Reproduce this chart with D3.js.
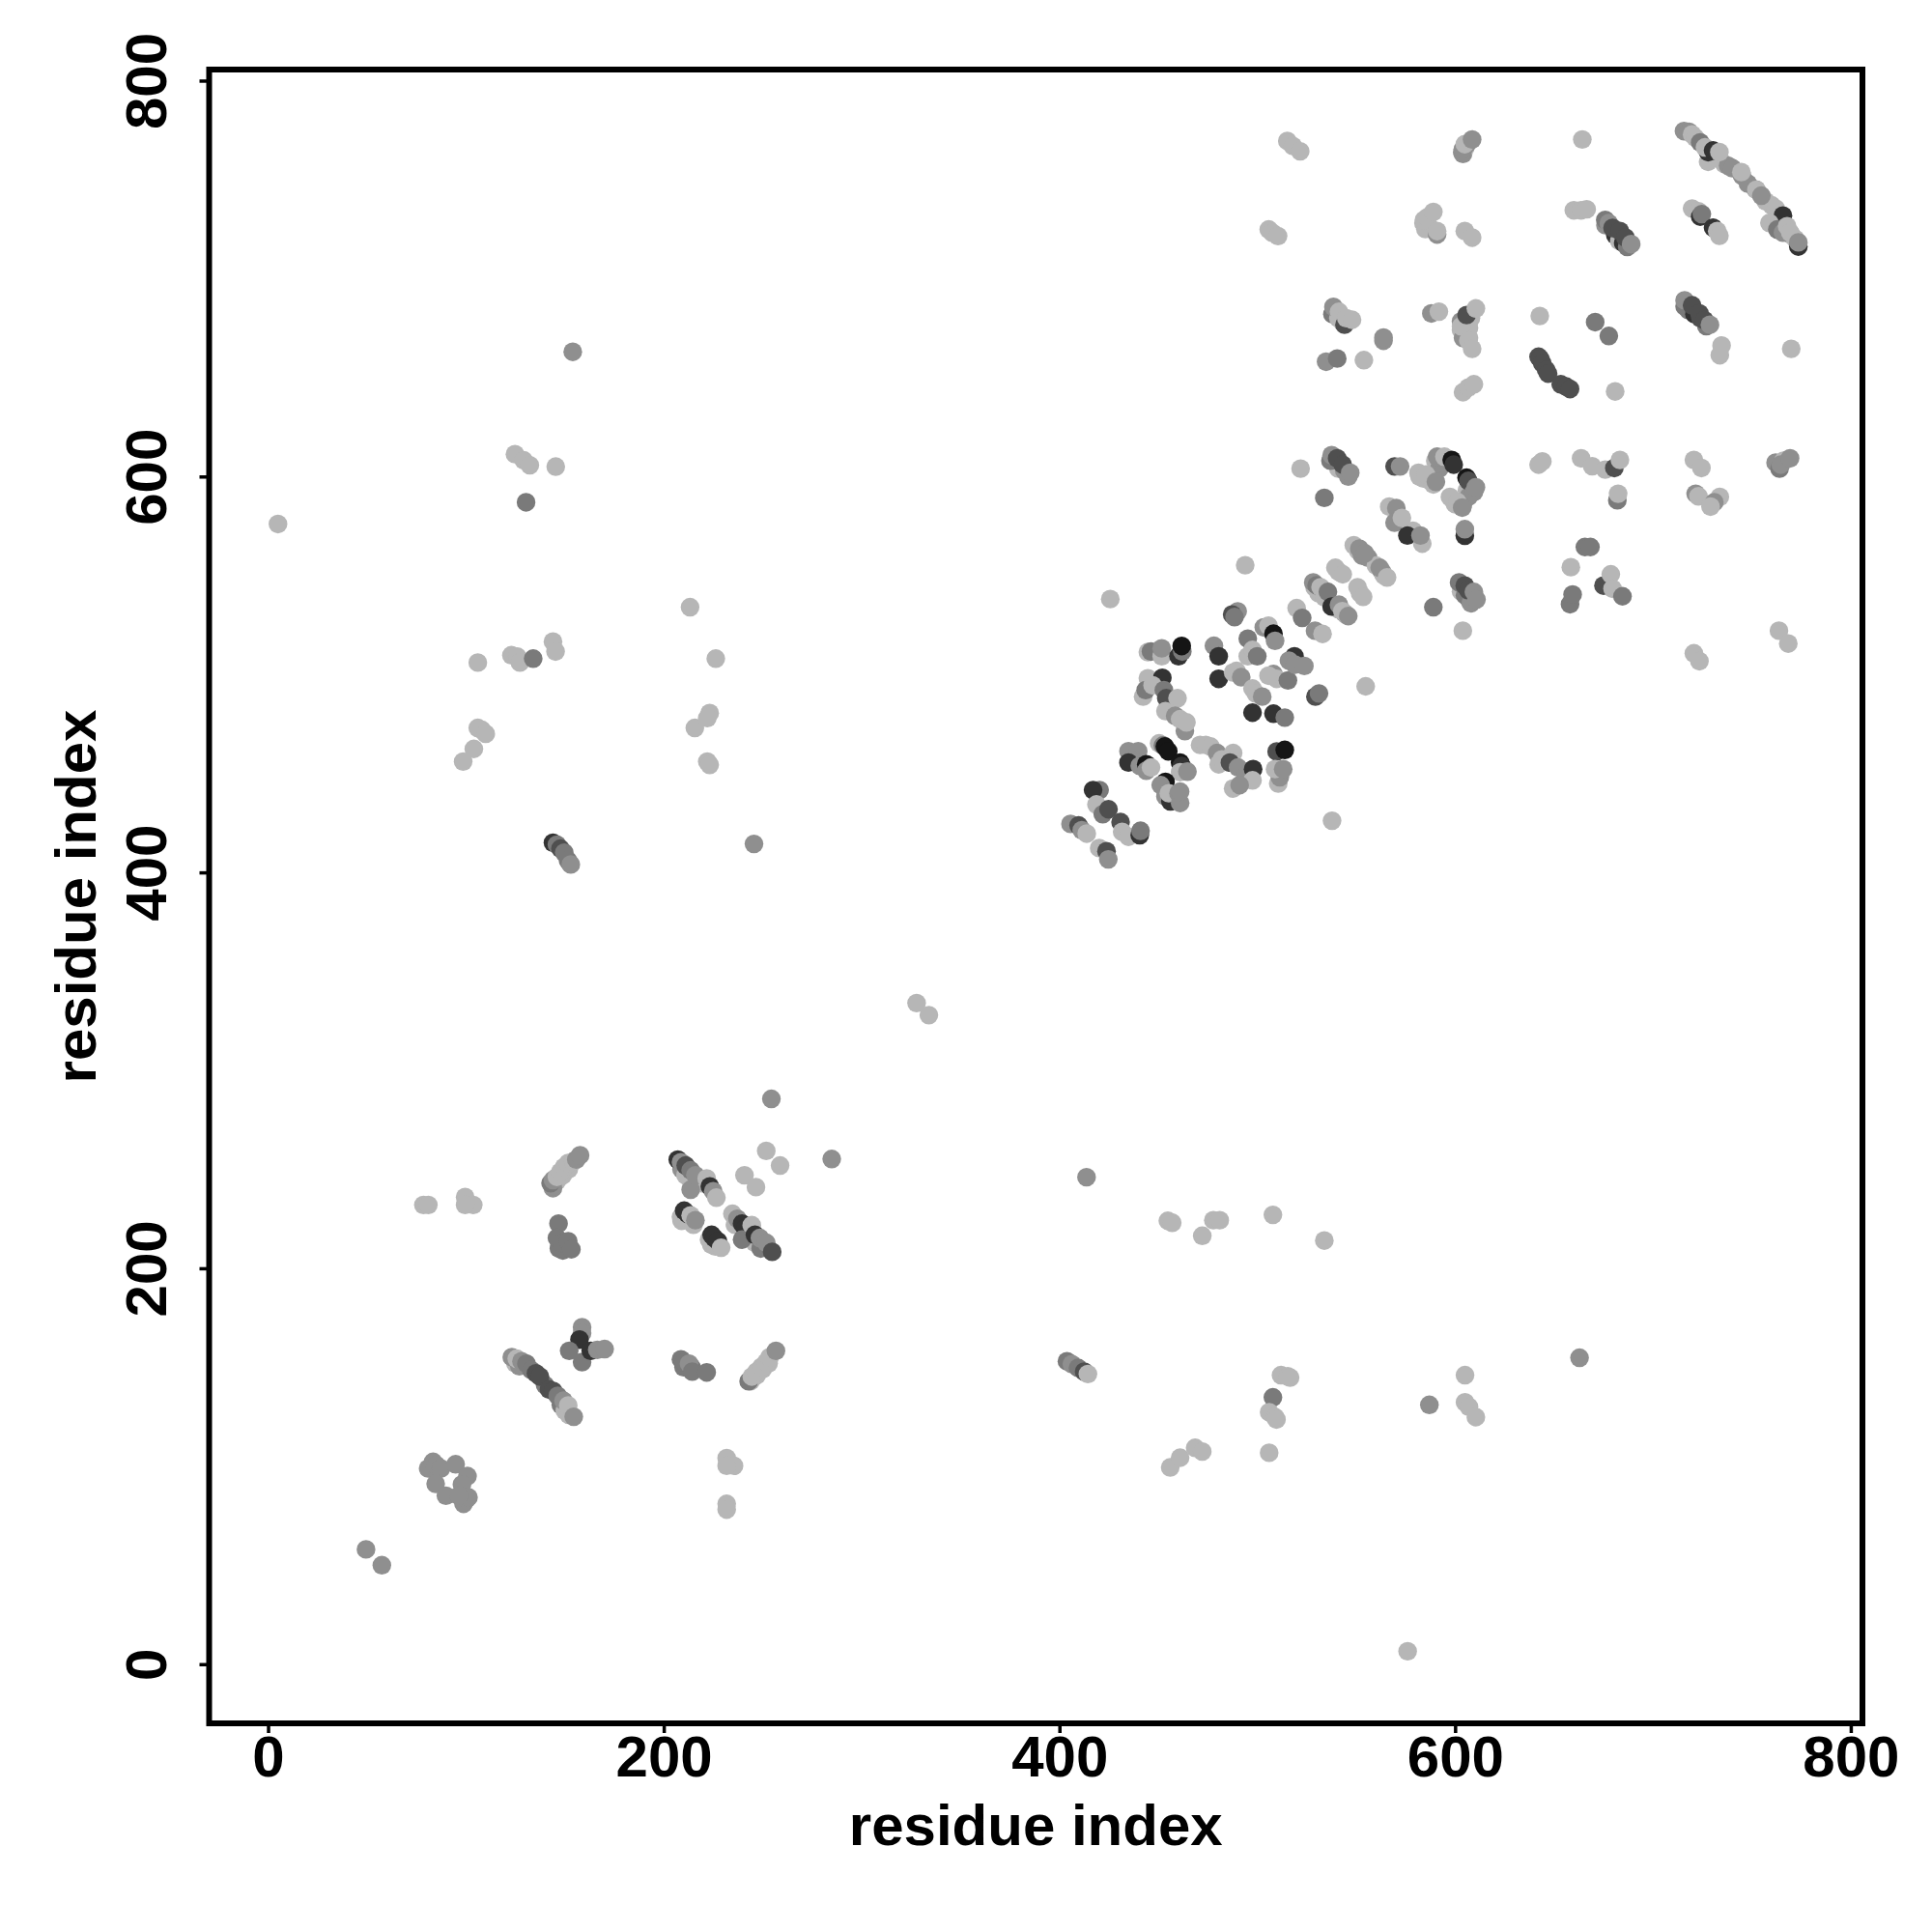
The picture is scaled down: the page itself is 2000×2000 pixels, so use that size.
<!DOCTYPE html>
<html><head><meta charset="utf-8"><script src="https://cdn.jsdelivr.net/npm/d3@7"></script>
<style>html,body{margin:0;background:#fff}svg{display:block}text{font-family:"Liberation Sans",Arial,sans-serif;font-weight:bold;fill:#000}</style></head>
<body><svg id="c" width="2000" height="2000"></svg>
<script>
// [residue i, residue j, shade class]
const clusterFill=[[143.5,242,"L"],[146,244,"L"],[149,247,"L"],[152,250,"L"],[144,240.5,"M"],[150,213,"M"],[147,210,"N"],[149,209,"N"],[125,152,"L"],[127,150.5,"M"],[140,141,"N"],[148,131,"N"],[150,128,"L"],[152,126,"L"],
[209,250,"M"],[211,247,"L"],[214,243,"L"],[219,243,"L"],[209,224,"L"],[211,226,"L"],[213,224,"L"],[215,222,"L"],[224,212,"L"],[226,211,"L"],[236,222,"L"],[242,216,"M"],[244,218,"M"],[246,213,"L"],[249,210,"N"],
[244,143,"L"],[247,146,"L"],[250,149,"L"],[253,152,"L"],[210,150,"N"],[214,150,"N"],
[529,544,"L"],[531,541,"L"],[533,543,"M"],[534,539,"L"],[541,533,"L"],[544,531,"M"],[545,530,"L"],[551,562.5,"L"],[553,560,"M"],[556,559,"M"],[560,555,"L"],[563,552,"M"],[564,550,"L"],[541,552,"L"],[552,541,"L"],
[582,600,"L"],[584,599,"L"],[587,598,"L"],[589,596,"L"],[590,608,"L"],[592,604,"M"],[594,607,"M"],[606,593,"L"],[607,590,"M"],[600,586,"L"],[599,588,"L"],[604,586,"M"],
[603,674,"L"],[605,672,"L"],[607,670,"L"],[604,670,"M"],[606,677,"M"],[607,675,"L"],[608,680,"L"],[584,728,"L"],[587,726,"L"],[585,725,"L"],[538,682,"N"],[541,680,"L"],[543,678,"L"],
[716,686,"N"],[718,684,"N"],[721,682,"E"],[724,680,"D"],[727,676,"N"],[676,727,"M"],[681,722,"E"],[683,719,"L"],[685,718,"E"],[687,716,"N"],
[540,607,"E"],[541,604,"L"],[544,603,"M"],[546,600,"M"],[537,608,"N"],[603,542,"L"],[605,540,"N"],[607,538,"N"],[608,536,"M"],[604,763,"M"],[605,766,"L"],[606,768,"M"],[762,607,"M"],[764,604,"N"],[766,608,"L"],
[736,758,"L"],[738,757,"M"],[745,752,"M"],[748,748,"M"],[752,745,"M"],[757,739,"L"],[760,737,"L"],[770,722,"L"],[772,720,"L"]];
const scattered=[[5,576,"L"],[576,6.5,"L"],[49.5,58,"M"],[57.5,50,"M"],[327.8,334,"L"],[334,327.9,"L"],[154,663,"M"],[245.6,414.4,"M"],[413.7,246,"M"],[284.9,255.2,"M"],[254.4,285.6,"M"],[662.9,154.8,"M"],[587,131,"M"],[605,146,"L"],[425.7,538.1,"L"],[493.9,555.2,"L"],[554.8,494,"L"],[537.8,426.1,"L"],[533.9,589.2,"N"],[521.9,604,"L"],[589,534,"N"],[603.9,522.1,"L"],[664.3,770.3,"L"],[642.8,681.1,"L"],[670.8,678,"N"],[677.7,671,"N"],[680.9,643,"L"],[769.9,664.5,"L"]];
const lowerLeft=[[80.9,98.9,"M"],[83.4,102.2,"M"],[85,100.6,"M"],[87.4,98.9,"M"],[94.8,101,"M"],[100.8,95,"M"],[84.7,91.1,"M"],[89.9,85.1,"M"],[98,90.8,"M"],[98.8,81,"M"],[100.5,83.5,"M"],[101.3,84.3,"M"],[96.4,85.1,"M"],
[78.5,232,"L"],[81,232,"L"],[99.6,236,"L"],[103.7,232,"L"],[99.6,232,"L"],
[142.8,243,"N"],[144,244.6,"M"],[146,246.2,"L"],[147.7,248.7,"L"],[149.6,251.1,"L"],[151.7,253.2,"L"],[154.2,253.9,"L"],[155.8,254.9,"M"],[157.7,257.1,"M"],
[146.8,222.6,"N"],[146,215.3,"N"],[148.5,212.9,"N"],[151.7,213.7,"N"],[153.3,209.6,"N"],
[123.2,155.1,"M"],[125.7,154.3,"L"],[128.1,153,"M"],[130.6,151.8,"N"],[133,148.6,"N"],[135.4,146.9,"D"],[137.4,145.3,"D"],[142,138.8,"D"],[144.1,138,"D"],[146.4,135.6,"N"],[149.3,133.1,"M"],[151.7,130.7,"L"],[154.5,125,"M"],
[158.7,170.2,"M"],[158.7,167.3,"M"],[157.4,164,"E"],[152.2,158.3,"N"],[158.7,152.6,"N"],[163.1,158.3,"E"],[166.4,158.8,"M"],[170.1,159.2,"M"],
[231.8,104.1,"L"],[235.5,100.2,"L"],[231.8,100.2,"L"],[231.8,81,"L"],[231.8,78.1,"L"],
[124.8,611.3,"L"],[129.2,608.2,"L"],[132.3,605.7,"L"],[145.4,605,"L"],[130.4,587,"N"],[106,506,"L"],[123,509.7,"L"],[126,509,"L"],[127.3,506,"L"],[134,508,"N"],[144,516.6,"L"],[145.3,511.6,"L"],[108,472,"L"],[106,473,"L"],[110,470,"L"],[104,462.4,"L"],[98.6,456,"L"],[213.3,534,"L"],[226.3,508,"L"],[215.7,473,"L"],[223.2,480.5,"L"],[222,478,"L"],[222,456,"L"],[223.2,454.3,"L"],
[144,415,"E"],[146,414,"N"],[147.8,412,"D"],[149.7,410,"N"],[151.6,406,"N"],[153,404,"M"]];
const midLower=[[207.1,254.9,"E"],[208.7,253.6,"M"],[211.1,251.9,"D"],[213.6,249.5,"N"],[213.6,239.7,"M"],[216,247,"M"],[221.7,245.4,"L"],[223.3,241.4,"E"],[225,238.9,"M"],[226.6,235.7,"L"],
[208.7,225.9,"L"],[210.3,229.1,"E"],[212,227.5,"E"],[213.6,226.7,"L"],[216,224.3,"M"],
[222.9,214.5,"L"],[224.2,216.9,"E"],[225.5,215.3,"E"],[227.4,213.7,"E"],[229,210.4,"L"],
[234.7,227.5,"L"],[237.2,225,"M"],[239.6,222.6,"E"],[241.2,220.2,"E"],[239.6,214.5,"N"],[244.5,221.8,"L"],[246.1,216.9,"E"],[248.6,215.3,"M"],[251.8,212.9,"M"],[254.8,208.3,"D"],
[251.8,259.3,"L"],[258.8,251.9,"L"],[240.8,247,"L"],[246.6,241,"L"],
[208.7,154,"N"],[210.3,152.6,"N"],[212.8,151.8,"M"],[214.4,147.8,"N"],[221.7,147.4,"N"],
[242.9,142.9,"N"],[244.5,145.3,"L"],[246.9,147.8,"L"],[249.4,150.2,"L"],[251.8,152.6,"L"],[253.5,155.1,"L"],[256.7,158.3,"M"],
[454.8,224,"L"],[457,223,"L"],[477.8,224.3,"L"],[481,224.3,"L"],[472.2,216.4,"L"],[507.9,227,"L"],[533.9,214,"L"],
[403.8,153,"N"],[406.3,151.6,"M"],[409.4,149.7,"N"],[412.5,147.8,"D"],[414.4,146.6,"L"],
[512,146,"L"],[515.4,145.4,"L"],[516.6,144.8,"L"],[507.9,134.8,"N"],[506,127.3,"L"],[509,124.8,"L"],[509.7,123.6,"L"],[506,106.8,"L"],[456,99.4,"L"],[461,104.3,"L"],[468.6,109.3,"L"],[472.2,107.4,"L"],[605,132.3,"L"],[607,130,"L"],[610.5,124.8,"L"]];
const upperRight=[[515.2,769.5,"L"],[518,767,"L"],[521.7,764.3,"L"],[603.6,763.8,"M"],[604,765.4,"M"],[604.9,767.9,"L"],[608.6,770.3,"M"],
[715.7,774.5,"M"],[718.2,774.2,"M"],[719.8,772.8,"L"],[721.4,771.2,"L"],[727.9,759,"L"],[727.9,763.9,"E"],[723.9,768.8,"N"],[726.3,766.3,"L"],[730.4,764.7,"E"],[733.6,763.9,"L"],[740.1,755.8,"M"],[744.7,753.8,"L"],[752.3,744.9,"L"],[754.8,741.9,"M"],[762.1,735.4,"L"],[765.7,731.8,"E"],[758.9,728.1,"L"],[762.9,724.8,"N"],[765.7,723.2,"M"],[767.8,726.5,"L"],[769.4,723.2,"L"],[773.5,716.2,"E"],[773.5,718.3,"M"],
[660,734.5,"L"],[663.7,734.5,"L"],[666.5,735,"L"],[675.9,729.6,"N"],[677.7,728,"M"],[679.6,725.6,"D"],[683.3,724,"D"],[686.1,720.7,"D"],[689,717.4,"M"],
[719.8,735.4,"L"],[723,734,"L"],[723.9,731.3,"E"],[724.7,732.6,"N"],[730.4,725.7,"E"],[732.5,724,"L"],[733.6,721.6,"L"],[505.8,724.8,"L"],[507.7,723.1,"L"],[510.5,721.5,"L"],
[584.3,729.6,"L"],[586,731,"L"],[589,733.7,"L"],[590.9,722.3,"M"],[590.9,724,"L"],[604.9,724,"L"],[608.6,720.7,"L"],
[538.5,685.7,"M"],[541.3,683.2,"L"],[544.1,676.7,"D"],[545,680,"L"],[547.9,679.2,"L"],[563.8,668.6,"M"],[563.8,670.2,"M"],[534.8,658,"M"],[540.4,659.6,"N"],[553.9,658.8,"L"],
[588,682.4,"M"],[591.8,683.3,"L"],[603,678.4,"M"],[603,675.9,"L"],[605.8,681.6,"D"],[610.5,684.9,"L"],[606.7,668.6,"L"],[608.6,664.5,"L"],[604,642.6,"L"],[606.7,645,"L"],[609.5,646.6,"L"],
[642.2,660.5,"D"],[643,659.5,"D"],[644.1,657.2,"D"],[646,653.9,"D"],[647,652,"D"],[653.4,646.6,"D"],[656,645.5,"D"],[658.1,644.2,"D"],
[716,689,"M"],[719.8,686.5,"D"],[723.5,682.4,"D"],[726,679,"D"],[728.8,676.7,"M"],[734.7,666.2,"L"],[733.8,661.3,"L"]];
const upperMid=[[537.6,610.8,"M"],[540.4,609.2,"D"],[543.2,606,"D"],[547,601.9,"M"],[569.4,605.1,"D"],[572.2,605.1,"M"],
[581.5,601.9,"L"],[585.3,601,"L"],[590.3,597.3,"M"],[590.9,610,"M"],[594.6,610,"L"],[598.3,608.4,"K"],[599.3,606,"E"],[605.8,599.4,"K"],[606.7,597.8,"D"],[609.5,592.1,"M"],[610.5,594.6,"M"],
[597.4,589.7,"L"],[601.1,587.2,"L"],[603.6,584.3,"M"],[604.9,570.1,"E"],[604.9,573.4,"M"],
[566.7,584.8,"L"],[570.3,584,"M"],[569.4,576.7,"M"],[573.1,579.1,"L"],[578.7,572.6,"L"],[575.9,570.2,"E"],[583.4,566.1,"L"],[582.5,570.2,"M"],
[548.8,565.3,"L"],[551.6,563.6,"M"],[554.4,561.2,"M"],[561.9,553.9,"M"],[565.6,549,"L"],
[539.5,553.9,"L"],[543.2,550.6,"L"],[550.7,544.1,"L"],[553.5,539.2,"L"],
[528.3,546.5,"M"],[530,545,"N"],[532,544.1,"L"],[535.7,541.7,"N"],[537.6,534.3,"E"],[541.3,535.2,"M"],[543,532,"L"],[546,529.5,"M"],
[519.9,533.5,"L"],[522.7,528.6,"N"],[529.2,522.1,"M"],[533,520.5,"L"],
[602,546.5,"N"],[604.9,544.9,"D"],[606.7,542.5,"D"],[609.5,541.7,"M"],[610.8,537.9,"M"],
[665.6,564.4,"N"],[668.4,564.4,"N"],[658.5,554.2,"L"],[675,544.9,"D"],[678.7,550.6,"L"],[679.6,543.3,"L"],[684.6,539.5,"N"],[658.1,535.5,"N"],[659.4,540.4,"N"],
[642.2,606,"L"],[644.1,607.6,"L"],[663.7,609.2,"L"],[669.3,605.2,"L"],[675.9,603.5,"L"],[680.5,604.3,"D"],[683.3,608.4,"L"],[682,588,"N"],[682.4,591.3,"L"],
[720.7,608.4,"L"],[724.5,604.3,"L"],[721.6,591.3,"M"],[723,590,"L"],[733.8,589.7,"L"],[731,587,"M"],[729.1,584.8,"L"],[764.6,606,"M"],[769.3,609.2,"M"],[763.7,522.1,"L"],[768.4,515.6,"L"],[720.7,510.7,"L"],[723.5,506.7,"L"]];
const centre=[[490.1,531.9,"M"],[487.3,530.3,"D"],[488.5,529,"N"],
[444.7,511.3,"L"],[446.3,511.6,"N"],[451.7,509.2,"L"],[451.7,513.2,"M"],[460.2,509.2,"E"],[462.1,511.6,"N"],[461.8,514.4,"K"],
[444.7,498.1,"L"],[452,498.3,"E"],[442.3,488.8,"L"],[443.6,492.1,"N"],[447.1,494.5,"L"],[452.8,492.1,"N"],[454,488,"D"],[459.7,488,"L"],[453.6,481.5,"L"],
[463.4,471.4,"M"],[458.5,479.1,"M"],[461,477.4,"L"],[464.2,475.8,"L"],
[471.1,464.4,"L"],[474,464.4,"L"],[476.4,463.6,"L"],[479.7,460.3,"M"],[480.5,454.6,"L"],[482.1,457.1,"L"],[487.8,460.3,"L"],[486.2,455.5,"D"],[490.3,453,"M"],[494.3,448.9,"M"],[497.9,452.2,"E"],[497.6,446.5,"L"],[487.8,442.4,"L"],[491.1,444.1,"M"],
[434.9,461.2,"M"],[439.8,461.2,"M"],[436.6,457.1,"M"],[434.9,455.5,"E"],[440.6,453.8,"M"],[443.9,454.6,"K"],[443.9,451.4,"M"],[446.3,453,"L"],
[450.4,465.2,"L"],[452.3,464.1,"N"],[453.3,463.6,"K"],[455,461.2,"K"],[461,455.5,"K"],[461.8,453.8,"E"],[461,450.6,"L"],[464.7,450.9,"M"],
[453.6,445.7,"K"],[451.2,444.1,"M"],[453.6,438.4,"M"],[456.1,435.9,"E"],[455.3,440,"L"],[460.2,440,"M"],[461,435.1,"M"],[461,440.8,"M"],
[420.3,441.6,"N"],[417,441.6,"E"],[418.7,434.3,"L"],[421.9,429.4,"N"],[424.8,431.9,"D"],[430.9,425.4,"D"],[431.7,420.5,"L"],[434.9,418,"L"],[440.6,418.8,"E"],[441,421,"N"],
[405.6,424.5,"M"],[409.7,423.7,"D"],[411.3,421.3,"M"],[413.8,419.6,"L"],[420.1,412.3,"L"],[423.8,410.7,"D"],[424.7,406.6,"M"],
[478.1,514.5,"M"],[480.5,509.2,"E"],[480.5,497.8,"E"],[489.5,501.8,"L"],[487.8,501,"L"],[491.9,498.6,"M"],
[495.2,518.1,"N"],[495.2,509.2,"L"],[497.6,512.4,"L"],[500,509.2,"N"],[503.3,523.8,"M"],[505.7,524.6,"L"],[508.2,520.6,"K"],[509,517,"M"],
[497.6,492.9,"L"],[499.2,490.4,"L"],[502.5,488.8,"M"],[497.6,480.7,"E"],[508.2,480.2,"E"],[513.9,478.2,"N"],
[508.2,500.2,"M"],[509.8,497.8,"L"],[505.7,499.4,"L"],[515.5,497,"N"],[518.8,509.2,"E"],
[516,507,"M"],[519,505,"M"],[523.8,504.3,"M"],[529.4,488.8,"D"],[531.2,490.4,"N"],
[509.8,461.1,"D"],[513.9,461.9,"K"],[510.6,444.9,"L"],[511.4,448.1,"M"],[509,452.2,"L"],[513.1,452.2,"M"]];
const xTickValues=[0,200,400,600,800];
const yTickValues=[0,200,400,600,800];
const axisLabel="residue index";
const shadeClasses=["L","M","N","D","E","K"];
const shadeColours=["#b6b6b6","#8f8f8f","#7a7a7a","#4f4f4f","#333333","#151515"];

const contacts=[].concat(clusterFill,lowerLeft,midLower,scattered,upperRight,upperMid,centre);
const svg=d3.select("#c");
const L=216.5,R=1928,T=72,B=1784;
const x=d3.scaleLinear().domain([-29.8,805.9]).range([L,R]);
const y=d3.scaleLinear().domain([-29.9,805.6]).range([B,T]);
const shade=d3.scaleOrdinal().domain(shadeClasses).range(shadeColours);
svg.append("g").selectAll("circle").data(contacts).join("circle")
 .attr("cx",d=>x(d[0])).attr("cy",d=>y(d[1])).attr("r",9.7).attr("fill",d=>shade(d[2]));
svg.append("rect").attr("x",L).attr("y",T).attr("width",R-L).attr("height",B-T).attr("fill","none").attr("stroke","#000").attr("stroke-width",6);
const gx=svg.append("g").attr("transform",`translate(0,${B})`).call(d3.axisBottom(x).tickValues(xTickValues).tickSize(10).tickFormat(d3.format("d")));
const gy=svg.append("g").attr("transform",`translate(${L},0)`).call(d3.axisLeft(y).tickValues(yTickValues).tickSize(10).tickFormat(d3.format("d")));
gx.select(".domain").remove();gy.select(".domain").remove();
svg.selectAll(".tick line").attr("stroke","#000").attr("stroke-width",3.5);
gx.selectAll("text").attr("font-size",60).attr("font-family",null).attr("y",0).attr("dy",null).attr("transform","translate(0,55)").attr("text-anchor","middle");
gy.selectAll("text").attr("font-size",60).attr("font-family",null).attr("x",0).attr("dy",null).attr("text-anchor","middle").attr("transform","translate(-45,0) rotate(-90)");
svg.append("text").attr("x",(L+R)/2).attr("y",1910).attr("text-anchor","middle").attr("font-size",60).text(axisLabel);
svg.append("text").attr("transform",`translate(99,${(T+B)/2}) rotate(-90)`).attr("text-anchor","middle").attr("font-size",60).text(axisLabel);
</script></body></html>
